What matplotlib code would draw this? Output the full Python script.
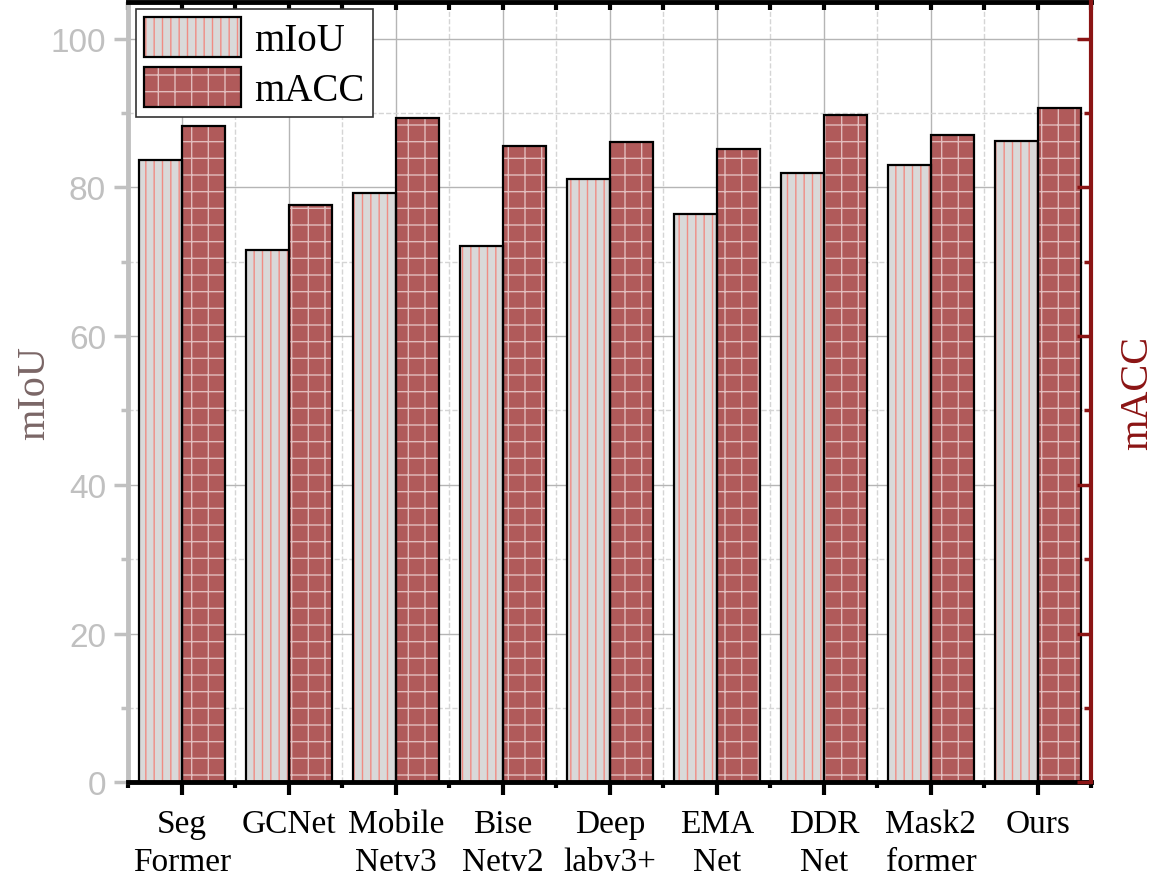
import numpy as np
import matplotlib
matplotlib.use("Agg")
import matplotlib.pyplot as plt
from matplotlib.ticker import MultipleLocator

# data
methods = ["Seg\nFormer", "GCNet", "Mobile\nNetv3", "Bise\nNetv2", "Deep\nlabv3+",
           "EMA\nNet", "DDR\nNet", "Mask2\nformer", "Ours"]
miou = [83.7, 71.6, 79.2, 72.1, 81.1, 76.4, 81.9, 83.0, 86.3]
macc = [88.3, 77.6, 89.4, 85.6, 86.1, 85.2, 89.8, 87.1, 90.7]


def main():
    plt.rcParams["font.family"] = ["Liberation Serif", "DejaVu Serif"]
    plt.rcParams["hatch.linewidth"] = 1.0

    fig = plt.figure(figsize=(11.55, 8.79), dpi=100)
    ax = fig.add_axes([0.111, 0.109, 0.834, 0.888])

    x = np.arange(1, len(methods) + 1)
    w = 0.4

    #-----------------------------------------------
    # grid behind the bars
    #-----------------------------------------------
    ax.set_axisbelow(True)
    ax.grid(which="major", color="#b5b5b5", linestyle="-", linewidth=1.0)
    ax.grid(which="minor", color="#d5d5d5", linestyle="--", linewidth=1.0)

    #-----------------------------------------------
    # bars: hatch layer + black outline layer
    #-----------------------------------------------
    h1 = ax.bar(x - w / 2, miou, w, facecolor="#d9d9d9", edgecolor="#f08c84",
                linewidth=0, hatch="||", zorder=2)
    e1 = ax.bar(x - w / 2, miou, w, facecolor="none", edgecolor="black",
                linewidth=1.6, zorder=3)
    h2 = ax.bar(x + w / 2, macc, w, facecolor="#b05a5a", edgecolor="#e2bcbc",
                linewidth=0, hatch="+", zorder=2)
    e2 = ax.bar(x + w / 2, macc, w, facecolor="none", edgecolor="black",
                linewidth=1.6, zorder=3)

    ax.set_xlim(0.5, len(methods) + 0.5)
    ax.set_ylim(0, 105)

    ax.set_xticks(x)
    ax.set_xticklabels(methods, fontsize=24, linespacing=1.3)
    ax.xaxis.set_minor_locator(plt.FixedLocator(np.arange(0.5, len(methods) + 1, 1)))
    ax.set_yticks([0, 20, 40, 60, 80, 100])
    ax.yaxis.set_minor_locator(MultipleLocator(10))

    # left axis: grey
    grey = "#c0c0c0"
    ax.spines["left"].set_color(grey)
    ax.spines["left"].set_linewidth(3.5)
    ax.spines["bottom"].set_linewidth(3.5)
    ax.spines["top"].set_linewidth(3.5)
    ax.spines["right"].set_visible(False)

    ax.tick_params(axis="y", which="major", direction="out", length=10, width=2.5,
                   color=grey, labelcolor=grey, labelsize=24, pad=6)
    ax.tick_params(axis="y", which="minor", direction="out", length=5, width=2.5,
                   color=grey)
    for lab in ax.get_yticklabels():
        lab.set_family(["Liberation Sans", "DejaVu Sans"])

    ax.tick_params(axis="x", which="major", direction="out", length=9, width=3,
                   pad=10, top=True)
    ax.tick_params(axis="x", which="minor", direction="out", length=4, width=3,
                   top=True)

    ax.set_ylabel("mIoU", fontsize=29, color="#7a6666")
    ax.yaxis.set_label_coords(-0.078, 0.5)

    # top ticks point inward
    for t in ax.xaxis.get_major_ticks() + ax.xaxis.get_minor_ticks():
        t.tick2line.set_marker(3)
        t.tick2line.set_markersize(6)

    #-----------------------------------------------
    # right axis: dark red
    #-----------------------------------------------
    red = "#8b1414"
    ax2 = ax.twinx()
    ax2.set_ylim(0, 105)
    ax2.set_yticks([0, 20, 40, 60, 80, 100])
    ax2.yaxis.set_minor_locator(MultipleLocator(10))
    ax2.set_yticklabels([])
    for s in ["left", "top", "bottom"]:
        ax2.spines[s].set_visible(False)
    ax2.spines["right"].set_color(red)
    ax2.spines["right"].set_linewidth(3)
    ax2.tick_params(axis="y", which="major", direction="in", length=10, width=2.5,
                    color=red)
    ax2.tick_params(axis="y", which="minor", direction="in", length=5, width=2.5,
                    color=red)
    ax2.set_ylabel("mACC", fontsize=29, color=red)
    ax2.yaxis.set_label_coords(1.029, 0.5)

    #-----------------------------------------------
    # legend
    #-----------------------------------------------
    leg = ax.legend([(h1[0], e1[0]), (h2[0], e2[0])], ["mIoU", "mACC"],
                    loc="upper left", bbox_to_anchor=(0.008, 0.99),
                    borderaxespad=0, fontsize=28, handlelength=2.5,
                    handleheight=1.2, labelspacing=0.2, handletextpad=0.35,
                    borderpad=0.2, fancybox=False, framealpha=1,
                    edgecolor="#333333")
    leg.get_frame().set_linewidth(1.2)
    leg.set_zorder(10)

    fig.savefig("out.png", dpi=100)


if __name__ == "__main__":
    main()
